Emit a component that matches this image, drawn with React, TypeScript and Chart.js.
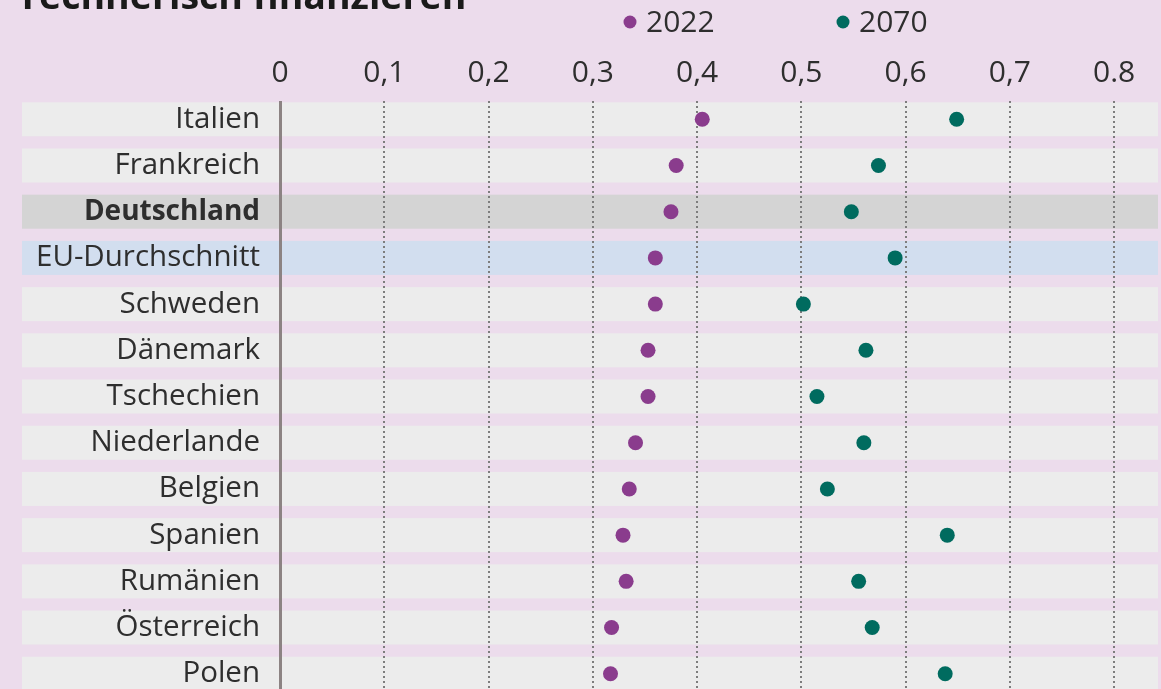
import React, { useEffect, useRef } from 'react';
import { Chart, registerables } from 'chart.js';

Chart.register(...registerables);

const categories = [
  'Italien',
  'Frankreich',
  'Deutschland',
  'EU-Durchschnitt',
  'Schweden',
  'Dänemark',
  'Tschechien',
  'Niederlande',
  'Belgien',
  'Spanien',
  'Rumänien',
  'Österreich',
  'Polen',
];
const values2022 = [0.405, 0.38, 0.375, 0.36, 0.36, 0.353, 0.353, 0.341, 0.335, 0.329, 0.332, 0.318, 0.317];
const values2070 = [0.649, 0.574, 0.548, 0.59, 0.502, 0.562, 0.515, 0.56, 0.525, 0.64, 0.555, 0.568, 0.638];
const seriesLabels = ['2022', '2070'];
const seriesColors = ['#8a3c8d', '#006b5f'];
const xTickValues = [0, 0.1, 0.2, 0.3, 0.4, 0.5, 0.6, 0.7, 0.8];
const xTickLabels = ['0', '0,1', '0,2', '0,3', '0,4', '0,5', '0,6', '0,7', '0.8'];
const titleText = 'rechnerisch finanzieren';
const boldCategory = 'Deutschland';
const rowColors: Record<string, string> = {
  Deutschland: '#d4d4d4',
  'EU-Durchschnitt': '#d2deef',
};

const FONT = '"Open Sans", "DejaVu Sans", sans-serif';
const PAGE_BG = '#ecdcec';
const BAND_BG = '#ececec';
const TEXT = '#2e2e2e';

const decorPlugin = {
  id: 'decor',
  beforeDraw(chart: any) {
    const { ctx, width, height } = chart;
    const y = chart.scales.y;
    ctx.save();
    ctx.fillStyle = PAGE_BG;
    ctx.fillRect(0, 0, width, height);
    categories.forEach((c, i) => {
      const yc = y.getPixelForValue(i);
      ctx.fillStyle = rowColors[c] || BAND_BG;
      ctx.fillRect(22, yc - 17, 1158 - 22, 34);
    });
    // title (cut off at top)
    ctx.fillStyle = '#1a1a1a';
    ctx.font = `bold 37.5px ${FONT}`;
    ctx.textBaseline = 'alphabetic';
    ctx.textAlign = 'left';
    ctx.fillText(titleText, 22, 9);
    // legend
    const legendX = [630, 843];
    chart.data.datasets.forEach((ds: any, i: number) => {
      ctx.fillStyle = ds.backgroundColor;
      ctx.beginPath();
      ctx.arc(legendX[i], 22, 6.5, 0, Math.PI * 2);
      ctx.fill();
      ctx.fillStyle = TEXT;
      ctx.font = `30px ${FONT}`;
      ctx.textBaseline = 'middle';
      ctx.fillText(ds.label, legendX[i] + 16, 23);
    });
    ctx.restore();
  },
};

export default function App() {
  const ref = useRef<HTMLCanvasElement | null>(null);

  useEffect(() => {
    document.body.style.margin = '0';
    document.body.style.background = PAGE_BG;
    let chart: Chart | null = null;
    let cancelled = false;

    const create = () => {
      if (cancelled || !ref.current) return;
      chart = new Chart(ref.current, {
        type: 'scatter',
        data: {
          datasets: [values2022, values2070].map((vals, s) => ({
            label: seriesLabels[s],
            data: vals.map((v, i) => ({ x: v, y: i })),
            backgroundColor: seriesColors[s],
            borderColor: seriesColors[s],
            borderWidth: 0,
            pointRadius: 7.5,
            pointHoverRadius: 7.5,
            showLine: false,
          })),
        },
        options: {
          animation: false,
          responsive: false,
          maintainAspectRatio: false,
          devicePixelRatio: 1,
          layout: { padding: 0, autoPadding: false },
          plugins: {
            legend: { display: false },
            tooltip: { enabled: false },
            title: { display: false },
          },
          events: [],
          scales: {
            x: {
              type: 'linear',
              position: 'top',
              min: 0,
              max: 0.845,
              afterBuildTicks: (s: any) => {
                s.ticks = xTickValues.map((v) => ({ value: v }));
              },
              afterFit: (s: any) => {
                s.height = 101;
                s.paddingLeft = 0;
                s.paddingRight = 0;
                s.paddingTop = 0;
                s.paddingBottom = 0;
              },
              ticks: {
                callback: (_v: any, i: number) => xTickLabels[i],
                font: { family: FONT, size: 30 },
                color: TEXT,
                padding: 10,
                maxRotation: 0,
                autoSkip: false,
              },
              grid: {
                drawTicks: false,
                color: (ctx: any) => (ctx.tick && ctx.tick.value === 0 ? '#8c8383' : '#7d7d7d'),
                lineWidth: (ctx: any) => (ctx.tick && ctx.tick.value === 0 ? 3 : 2),
              },
              border: {
                display: false,
                dash: (ctx: any) => (ctx.tick && ctx.tick.value === 0 ? [] : [2, 3]),
              },
            },
            y: {
              type: 'linear',
              reverse: true,
              min: -0.396,
              max: 12.33,
              afterBuildTicks: (s: any) => {
                s.ticks = categories.map((_c, i) => ({ value: i }));
              },
              afterFit: (s: any) => {
                s.width = 280;
                s.paddingLeft = 0;
                s.paddingRight = 0;
                s.paddingTop = 0;
                s.paddingBottom = 0;
              },
              ticks: {
                callback: (v: any) => categories[Math.round(Number(v))],
                font: (ctx: any) => {
                  const isBold = ctx.tick && categories[Math.round(ctx.tick.value)] === boldCategory;
                  return { family: FONT, size: isBold ? 28 : 29.5, weight: isBold ? 'bold' : 'normal' };
                },
                color: TEXT,
                padding: 20,
                autoSkip: false,
              },
              grid: { display: false, drawTicks: false },
              border: { display: false },
            },
          },
        },
        plugins: [decorPlugin],
      } as any);
    };

    if ((document as any).fonts && (document as any).fonts.load) {
      Promise.all([
        (document as any).fonts.load('28px "Open Sans"'),
        (document as any).fonts.load('bold 28px "Open Sans"'),
      ])
        .catch(() => null)
        .then(create);
    } else {
      create();
    }

    return () => {
      cancelled = true;
      if (chart) chart.destroy();
    };
  }, []);

  return (
    <div style={{ width: 1161, height: 689, overflow: 'hidden', background: PAGE_BG }}>
      <canvas ref={ref} width={1161} height={689} style={{ display: 'block' }} />
    </div>
  );
}
